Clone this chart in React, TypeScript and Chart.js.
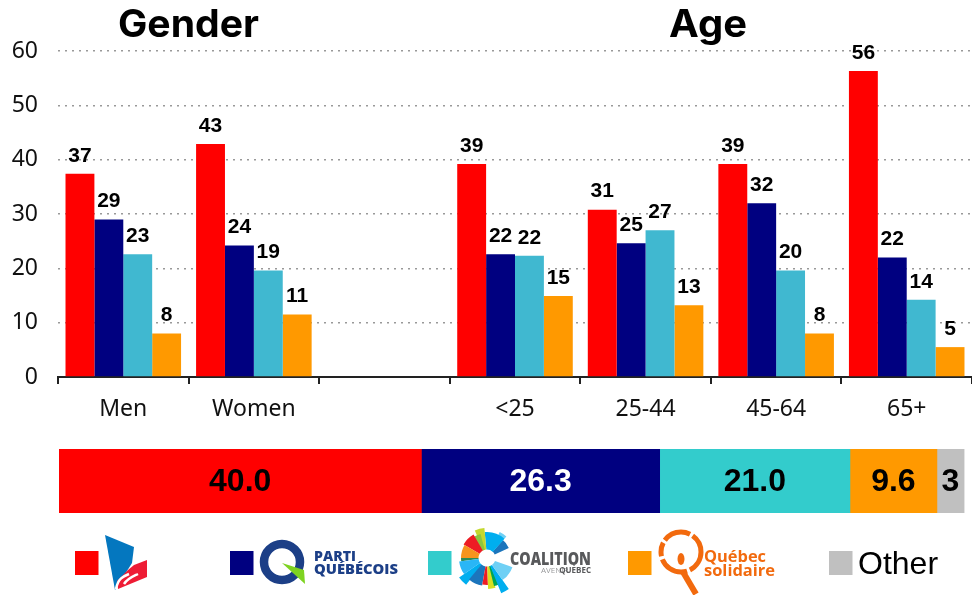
import React, { useEffect, useRef } from "react";
import { Chart, registerables } from "chart.js";

Chart.register(...registerables);

const categories = ["Men", "Women", "", "<25", "25-44", "45-64", "65+"];
const liberal = [37.4, 42.9, null, 39.2, 30.8, 39.2, 56.3];
const pq = [29, 24.2, null, 22.6, 24.6, 32, 22];
const caq = [22.6, 19.6, null, 22.3, 27, 19.6, 14.2];
const qs = [8, 11.5, null, 14.9, 13.2, 8, 5.5];
const liberalLabels = ["37", "43", "", "39", "31", "39", "56"];
const pqLabels = ["29", "24", "", "22", "25", "32", "22"];
const caqLabels = ["23", "19", "", "22", "27", "20", "14"];
const qsLabels = ["8", "11", "", "15", "13", "8", "5"];

const overallNames = ["Liberal", "PQ", "CAQ", "QS", "Other"];
const overallValues = [40.0, 26.3, 21.0, 9.6, 3];
const overallLabels = ["40.0", "26.3", "21.0", "9.6", "3"];
const overallColors = ["#ff0000", "#000080", "#33cccc", "#ff9900", "#c0c0c0"];
const overallTextColors = ["#000000", "#ffffff", "#000000", "#000000", "#000000"];
const barColors = ["#ff0000", "#000080", "#40b8d0", "#ff9900"];

const caqWedges: [number, number, number, string][] = [
  [-50, -25, 24, "#1c75bc"],
  [-64, -48, 29, "#6fd0f5"],
  [-95, -48, 26, "#00aeef"],
  [-114, -95, 30, "#c4d82e"],
  [-122, -105, 25, "#8cc63f"],
  [-150, -120, 27, "#ed1c24"],
  [-180, -150, 26, "#f7941d"],
  [-187, -180, 26, "#2e8b57"],
  [145, 173, 28, "#29b6f6"],
  [128, 145, 34, "#00aeef"],
  [100, 130, 28, "#1c75bc"],
  [88, 100, 27, "#ed1c24"],
  [74, 88, 31, "#d7df23"],
  [66, 76, 29, "#00a651"],
  [55, 68, 38, "#00aeef"],
  [20, 55, 27, "#6fd0f5"],
];

function wedgePath(cx: number, cy: number, a0: number, a1: number, r0: number, r1: number) {
  const p = (a: number, r: number) => {
    const t = (a * Math.PI) / 180;
    return `${(cx + r * Math.cos(t)).toFixed(1)} ${(cy + r * Math.sin(t)).toFixed(1)}`;
  };
  return `M${p(a0, r0)}L${p(a0, r1)}A${r1} ${r1} 0 0 1 ${p(a1, r1)}L${p(a1, r0)}A${r0} ${r0} 0 0 0 ${p(a0, r0)}Z`;
}

const barLabelPlugin = {
  id: "barLabels",
  afterDatasetsDraw(chart: any) {
    const { ctx } = chart;
    ctx.save();
    ctx.font = "bold 21px 'Liberation Sans'";
    ctx.fillStyle = "#000";
    ctx.textAlign = "center";
    ctx.textBaseline = "middle";
    chart.data.datasets.forEach((ds: any, i: number) => {
      chart.getDatasetMeta(i).data.forEach((el: any, j: number) => {
        const t = ds.valueLabels[j];
        if (t) ctx.fillText(t, el.x, el.y - 18);
      });
    });
    ctx.restore();
  },
};

const stackLabelPlugin = {
  id: "stackLabels",
  afterDatasetsDraw(chart: any) {
    const { ctx } = chart;
    ctx.save();
    ctx.font = "bold 32px 'Liberation Sans'";
    ctx.textAlign = "center";
    ctx.textBaseline = "middle";
    chart.data.datasets.forEach((ds: any, i: number) => {
      const el = chart.getDatasetMeta(i).data[0];
      ctx.fillStyle = ds.valueColor;
      ctx.fillText(ds.valueLabel, (el.base + el.x) / 2, el.y + 1);
    });
    ctx.restore();
  },
};

const swatchX = [75, 230, 428, 628, 829];

export default function App() {
  const mainRef = useRef<HTMLCanvasElement>(null);
  const stackRef = useRef<HTMLCanvasElement>(null);

  useEffect(() => {
    const series = [
      { data: liberal, valueLabels: liberalLabels },
      { data: pq, valueLabels: pqLabels },
      { data: caq, valueLabels: caqLabels },
      { data: qs, valueLabels: qsLabels },
    ];
    const main = new Chart(mainRef.current!, {
      type: "bar",
      data: {
        labels: categories,
        datasets: series.map((s, i) => ({
          ...s,
          backgroundColor: barColors[i],
          categoryPercentage: 0.885,
          barPercentage: 1,
        })) as any,
      },
      options: {
        responsive: false,
        animation: false,
        layout: { padding: { top: 51, left: 0, right: 0, bottom: 0 } },
        plugins: { legend: { display: false }, tooltip: { enabled: false } },
        scales: {
          x: {
            offset: true,
            afterFit: (s: any) => { s.height = 53; },
            grid: { drawOnChartArea: false, drawTicks: true, tickLength: 7, color: "#222", lineWidth: 2 },
            border: { color: "#222", width: 2 },
            ticks: { color: "#111", font: { family: "'Noto Sans'", size: 23 }, padding: 12, maxRotation: 0, autoSkip: false },
          },
          y: {
            min: 0,
            max: 60,
            afterFit: (s: any) => { s.width = 58; },
            grid: { drawTicks: false, color: (c: any) => (c.tick.value === 0 ? "transparent" : "#999999"), lineWidth: 1.5 },
            border: { display: false, dash: [2, 5] },
            ticks: { stepSize: 10, color: "#111", font: { family: "'Noto Sans'", size: 23 }, padding: 20 },
          },
        },
      },
      plugins: [barLabelPlugin],
    } as any);

    const stack = new Chart(stackRef.current!, {
      type: "bar",
      data: {
        labels: ["All"],
        datasets: overallValues.map((v, i) => ({
          label: overallNames[i],
          data: [v],
          backgroundColor: overallColors[i],
          valueLabel: overallLabels[i],
          valueColor: overallTextColors[i],
          categoryPercentage: 1,
          barPercentage: 1,
        })) as any,
      },
      options: {
        indexAxis: "y",
        responsive: false,
        animation: false,
        layout: { padding: { top: 9, bottom: 7, left: 59, right: 7 } },
        plugins: { legend: { display: false }, tooltip: { enabled: false } },
        scales: {
          x: { stacked: true, min: 0, max: 100, display: false },
          y: { stacked: true, display: false },
        },
      },
      plugins: [stackLabelPlugin],
    } as any);

    return () => {
      main.destroy();
      stack.destroy();
    };
  }, []);

  return (
    <div style={{ position: "absolute", left: 0, top: 0, width: 972, height: 595, overflow: "hidden", background: "#fff" }}>
      <canvas ref={mainRef} width={972} height={430} style={{ position: "absolute", left: 0, top: 0 }} />
      <canvas ref={stackRef} width={972} height={80} style={{ position: "absolute", left: 0, top: 440 }} />
      <svg width={972} height={595} style={{ position: "absolute", left: 0, top: 0, pointerEvents: "none" }}>
        <g fontFamily="Inter" fontWeight="700" fontSize={38} fill="#000">
          <text x={118} y={37} textLength={141} lengthAdjust="spacingAndGlyphs">Gender</text>
          <text x={669} y={37} textLength={78} lengthAdjust="spacingAndGlyphs">Age</text>
        </g>

        {swatchX.map((x, i) => (
          <rect key={i} x={x} y={551} width={23.5} height={24} fill={overallColors[i]} />
        ))}

        {/* Liberal logo */}
        <polygon points="105,535 134,547 132,563 115,590" fill="#0477bf" />
        <polygon points="147,560 147,577 118,589 117,581 128,570 134,565" fill="#ee1c35" />
        <path d="M116 589 C118 578 124 576 129 574 M124 584 C128 578 134 576 138 574" stroke="#fff" strokeWidth={2.5} fill="none" />

        {/* PQ logo */}
        <circle cx={282} cy={562} r={18} fill="none" stroke="#1c3f87" strokeWidth={8.5} />
        <polygon points="282,563 304,570 305,584" fill="#7ed321" />
        <g fontFamily="'Open Sans'" fontWeight="800" fontSize={14} fill="#1c3f87">
          <text x={314} y={561} textLength={42} lengthAdjust="spacingAndGlyphs">PARTI</text>
          <text x={314} y={574} textLength={84} lengthAdjust="spacingAndGlyphs">QUÉBÉCOIS</text>
        </g>

        {/* CAQ logo */}
        {caqWedges.map(([a0, a1, r, c], i) => (
          <path key={i} d={wedgePath(487, 558, a0, a1, 8.5, r)} fill={c} />
        ))}
        <text x={510} y={565} fontFamily="'Open Sans'" fontWeight="800" fontSize={17} fill="#58595b" textLength={81} lengthAdjust="spacingAndGlyphs">COALITION</text>
        <text x={541} y={573} fontFamily="'Open Sans'" fontSize={8} fill="#9a9b9d">AVENIR</text>
        <text x={591} y={573} textAnchor="end" fontFamily="'Open Sans'" fontWeight="bold" fontSize={8} fill="#58595b">QUÉBEC</text>

        {/* QS logo */}
        <circle cx={681} cy={552} r={20} fill="none" stroke="#f26a0e" strokeWidth={5} strokeDasharray="22 3 30 3 14 3 28 3" />
        <line x1={683} y1={572} x2={696} y2={594} stroke="#f26a0e" strokeWidth={6} />
        <ellipse cx={681} cy={559} rx={3.5} ry={6} fill="#f26a0e" />
        <g fontFamily="'Open Sans'" fontWeight="bold" fontSize={16.5} fill="#f26a0e">
          <text x={704} y={562} textLength={62} lengthAdjust="spacingAndGlyphs">Québec</text>
          <text x={704} y={576} textLength={71} lengthAdjust="spacingAndGlyphs">solidaire</text>
        </g>

        <text x={858} y={574} fontFamily="'Liberation Sans'" fontSize={32} fill="#000">Other</text>
      </svg>
    </div>
  );
}
